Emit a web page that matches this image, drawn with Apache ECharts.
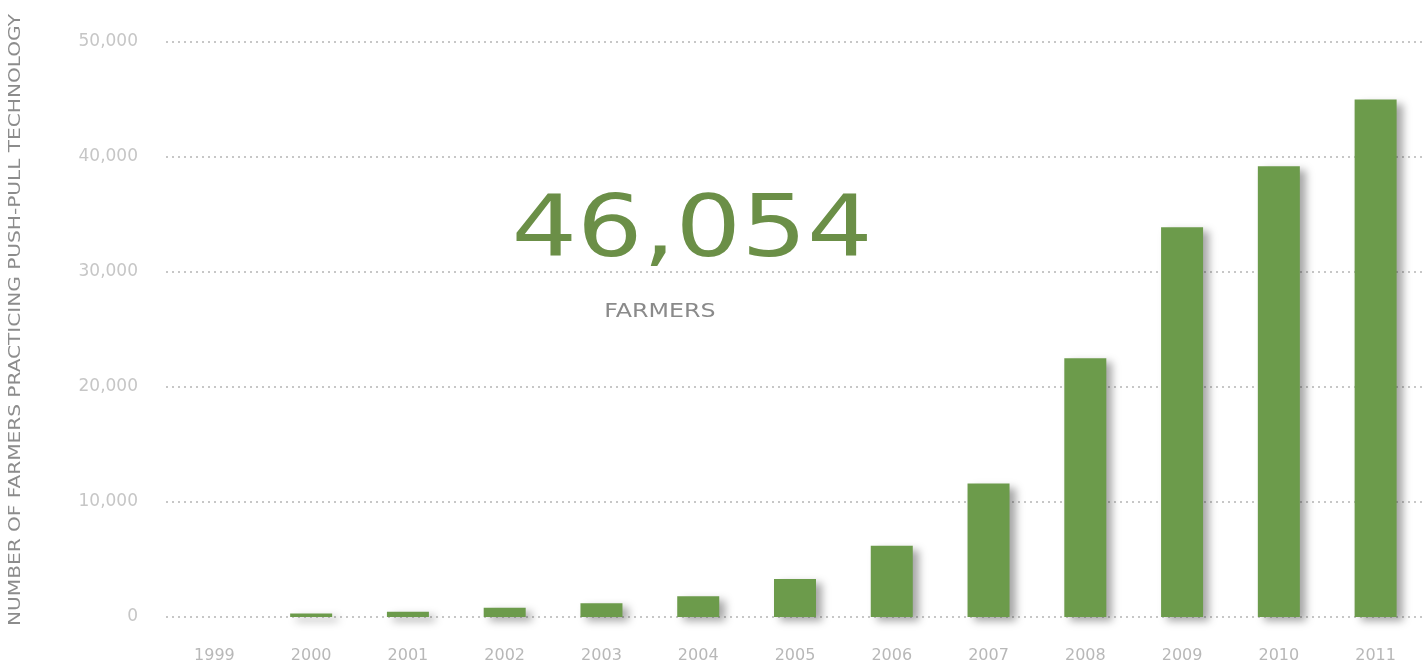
<!DOCTYPE html>
<html>
<head>
<meta charset="utf-8">
<script src="https://cdn.jsdelivr.net/npm/echarts@6/dist/echarts.min.js"></script>
<style>
html,body{margin:0;padding:0;background:#fff;}
#chart{width:1424px;height:669px;}
</style>
</head>
<body>
<div id="chart"></div>
<script>
const years = ['1999','2000','2001','2002','2003','2004','2005','2006','2007','2008','2009','2010','2011'];
const farmers = [0, 300, 450, 800, 1200, 1800, 3300, 6200, 11600, 22500, 33900, 39200, 45000];
const yTicks = [0, 10000, 20000, 30000, 40000, 50000];
const headline = '46,054';
const headlineLabel = 'FARMERS';
const yTitle = 'NUMBER OF FARMERS PRACTICING PUSH-PULL TECHNOLOGY';

const chart = echarts.init(document.getElementById('chart'));
const option = {
  backgroundColor: '#ffffff',
  animation: false,
  grid: { left: 166, right: -4, top: 42, bottom: 52, containLabel: false },
  xAxis: {
    type: 'category',
    data: years,
    axisLine: { show: false },
    axisTick: { show: false },
    axisLabel: { color: '#b8b8b8', fontSize: 16, fontFamily: 'DejaVu Sans', margin: 31 }
  },
  yAxis: {
    type: 'value',
    min: 0, max: 50000, interval: 10000,
    axisLine: { show: false },
    axisTick: { show: false },
    axisLabel: {
      color: '#c6c6c6', fontSize: 17, fontFamily: 'DejaVu Sans', margin: 28,
      formatter: v => yTicks.includes(v) ? v.toLocaleString('en-US') : ''
    },
    splitLine: { lineStyle: { color: '#b5b5b5', type: [2, 4], width: 1.5 } }
  },
  series: [{
    type: 'bar',
    data: farmers,
    barWidth: 42,
    itemStyle: {
      color: '#6c9b4b',
      shadowColor: 'rgba(0,0,0,0.35)',
      shadowBlur: 8,
      shadowOffsetX: 6,
      shadowOffsetY: 4
    }
  }],
  graphic: [
    {
      type: 'text', x: 16, y: 320, rotation: Math.PI / 2, scaleX: 1.34,
      style: { text: yTitle, fill: '#8c8c8c', font: '15px "DejaVu Sans"', align: 'center', verticalAlign: 'middle' }
    },
    {
      type: 'text', x: 692, y: 234, scaleX: 1.2,
      style: {
        text: headline, fill: '#6b8f47', font: '86px "DejaVu Sans"', align: 'center', verticalAlign: 'middle',
        shadowColor: 'rgba(0,0,0,0.25)', shadowBlur: 6, shadowOffsetX: 3, shadowOffsetY: 3
      }
    },
    {
      type: 'text', x: 660, y: 312, scaleX: 1.25,
      style: { text: headlineLabel, fill: '#8a8a8a', font: '19px "DejaVu Sans"', align: 'center', verticalAlign: 'middle' }
    }
  ]
};
chart.setOption(option);
</script>
</body>
</html>
